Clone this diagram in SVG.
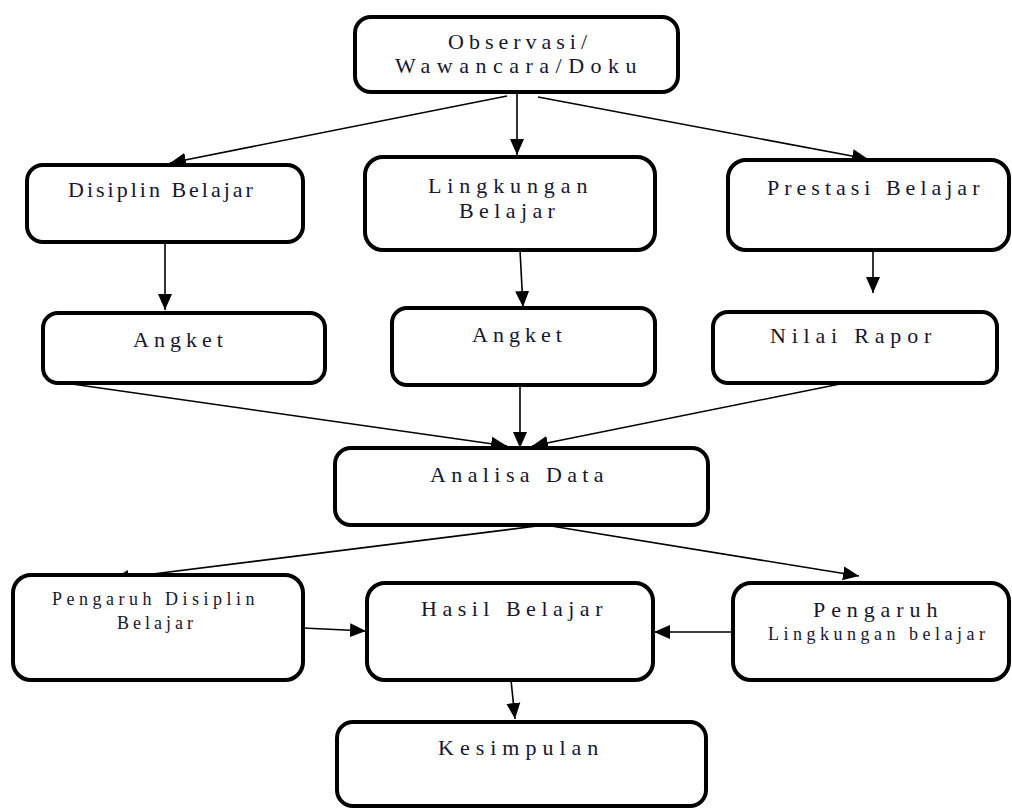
<svg xmlns="http://www.w3.org/2000/svg" width="1012" height="812" viewBox="0 0 1012 812">
<style>
.box{fill:#fff;stroke:#000;stroke-width:4}
.c{fill:none;stroke:#000;stroke-width:1.6}
.t{font-family:"Liberation Serif","DejaVu Serif",serif;font-size:22px;fill:#161630;letter-spacing:5px}
.s{font-size:18px;letter-spacing:4.5px}
</style>
<defs>
<marker id="ah" markerUnits="userSpaceOnUse" markerWidth="18" markerHeight="16" refX="16" refY="8" orient="auto">
<path d="M0,1 L16,8 L0,15 Z" fill="#000"/>
</marker>
</defs>
<rect width="1012" height="812" fill="#fff"/>
<g id="connectors">
<line class="c" x1="517" y1="93" x2="517" y2="155" marker-end="url(#ah)"/>
<line class="c" x1="507" y1="96" x2="170" y2="163" marker-end="url(#ah)"/>
<line class="c" x1="538" y1="97" x2="868" y2="159" marker-end="url(#ah)"/>
<line class="c" x1="165" y1="242" x2="165" y2="310" marker-end="url(#ah)"/>
<line class="c" x1="520" y1="250" x2="523" y2="307" marker-end="url(#ah)"/>
<line class="c" x1="873" y1="250" x2="873" y2="293" marker-end="url(#ah)"/>
<line class="c" x1="65" y1="383" x2="507" y2="446" marker-end="url(#ah)"/>
<line class="c" x1="520" y1="385" x2="520" y2="448" marker-end="url(#ah)"/>
<line class="c" x1="845" y1="383" x2="532" y2="446" marker-end="url(#ah)"/>
<line class="c" x1="545" y1="525" x2="113" y2="579" marker-end="url(#ah)"/>
<line class="c" x1="545" y1="525" x2="859" y2="576" marker-end="url(#ah)"/>
<line class="c" x1="303" y1="628" x2="366" y2="631" marker-end="url(#ah)"/>
<line class="c" x1="733" y1="632" x2="654" y2="632" marker-end="url(#ah)"/>
<line class="c" x1="511" y1="680" x2="515" y2="719" marker-end="url(#ah)"/>
</g>
<g id="observasi">
<rect class="box" x="355" y="17" width="323" height="75" rx="16"/>
<text class="t" x="448" y="49">Observasi/</text>
<text class="t" x="395" y="73" style="letter-spacing:6.5px">Wawancara/Doku</text>
</g>
<g id="disiplin">
<rect class="box" x="27" y="165" width="276" height="77" rx="16"/>
<text class="t" x="68" y="197" style="letter-spacing:3px">Disiplin Belajar</text>
</g>
<g id="lingkungan">
<rect class="box" x="365" y="157" width="290" height="93" rx="18"/>
<text class="t" x="428" y="193" style="letter-spacing:5.9px">Lingkungan</text>
<text class="t" x="459" y="218" style="letter-spacing:5.4px">Belajar</text>
</g>
<g id="prestasi">
<rect class="box" x="728" y="160" width="281" height="90" rx="18"/>
<text class="t" x="767" y="195">Prestasi Belajar</text>
</g>
<g id="angket1">
<rect class="box" x="43" y="313" width="282" height="70" rx="15"/>
<text class="t" x="133" y="347">Angket</text>
</g>
<g id="angket2">
<rect class="box" x="392" y="308" width="263" height="77" rx="15"/>
<text class="t" x="472" y="342">Angket</text>
</g>
<g id="nilai">
<rect class="box" x="713" y="312" width="284" height="71" rx="15"/>
<text class="t" x="770" y="343" style="letter-spacing:5.8px">Nilai Rapor</text>
</g>
<g id="analisa">
<rect class="box" x="335" y="448" width="373" height="77" rx="16"/>
<text class="t" x="430" y="482" style="letter-spacing:5.4px">Analisa Data</text>
</g>
<g id="pengaruh-disiplin">
<rect class="box" x="13" y="575" width="290" height="105" rx="18"/>
<text class="t s" x="52" y="605">Pengaruh Disiplin</text>
<text class="t s" x="117" y="629" style="letter-spacing:4px">Belajar</text>
</g>
<g id="hasil">
<rect class="box" x="367" y="583" width="286" height="97" rx="18"/>
<text class="t" x="421" y="616" style="letter-spacing:5.5px">Hasil Belajar</text>
</g>
<g id="pengaruh-lingkungan">
<rect class="box" x="733" y="583" width="276" height="97" rx="18"/>
<text class="t" x="813" y="617" style="letter-spacing:5.9px">Pengaruh</text>
<text class="t s" x="768" y="640">Lingkungan belajar</text>
</g>
<g id="kesimpulan">
<rect class="box" x="337" y="722" width="369" height="84" rx="16"/>
<text class="t" x="438" y="755" style="letter-spacing:6px">Kesimpulan</text>
</g>
</svg>
